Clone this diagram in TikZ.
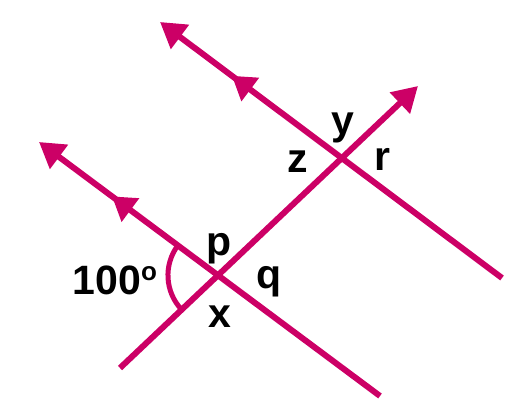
\documentclass[tikz,border=0pt]{standalone}
\usepackage{fontspec}
\setmainfont{Liberation Sans}
\usepackage{xcolor}
\usepackage{tikz}
\usetikzlibrary{
  arrows.meta,
  calc,
  intersections,
  decorations.markings}
\definecolor{lineclr}{RGB}{204,0,102}
\newcommand{\degring}{{\fontsize{26}{26}\selectfont\raisebox{14pt}{o}}}
\tikzset{every picture/.style={font issue=\fontsize{41}{48}\bfseries},
         font issue/.style={execute at begin picture={#1\selectfont}},
         parline/.style={line width=6pt, lineclr, -{Triangle[length=25pt,width=29pt]},
           postaction={decorate},
           decoration={markings, mark=at position #1 with {\arrow{Triangle[length=23pt,width=28pt]}}}},
         transline/.style={line width=6pt, lineclr, -{Triangle[length=25pt,width=28pt]}},
         lbl/.style={anchor=base, inner sep=0pt}
        }
\begin{document}
\begin{tikzpicture}[x=1pt,y=1pt]
\useasboundingbox (0,0) rectangle (510,411);
%Parallel lines
\coordinate (L1s) at (380,15);
\coordinate (L1e) at (39,269);
\coordinate (L2s) at (502,133);
\coordinate (L2e) at (160,389);
\draw[name path = L1, parline=0.786] (L1s) -- (L1e);
\draw[name path = L2, parline=0.79] (L2s) -- (L2e);

%Transversal
\coordinate (Ts) at (120,43);
\coordinate (Te) at (418,325);
\draw[name path = T, transline] (Ts) -- (Te);

\coordinate[name intersections={of=L1 and T,by=P}];
\coordinate[name intersections={of=L2 and T,by=Q}];

%Angle mark
\draw[line width=5pt, lineclr] ([shift={(143.3:50)}]P) arc (143.3:223.4:50);

\node[lbl] (ang) at ([shift={(-103,-19)}]P) {100\degring};
\node[lbl] (p) at ([shift={(1,20)}]P) {p};
\node[lbl] (q) at ([shift={(51,-13)}]P) {q};
\node[lbl] (x) at ([shift={(2,-52)}]P) {x};
\node[lbl] (z) at ([shift={(-44,-14)}]Q) {z};
\node[lbl] (y) at ([shift={(1,24)}]Q) {y};
\node[lbl] (r) at ([shift={(41,-12)}]Q) {r};
\end{tikzpicture}
\end{document}
